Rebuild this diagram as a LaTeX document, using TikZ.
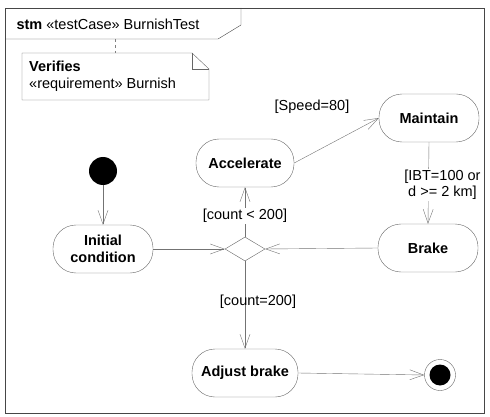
\documentclass[tikz,border=0pt]{standalone}
\usepackage{fontspec}
\setmainfont{Liberation Sans}
\usepackage{tikz}
\usetikzlibrary{arrows.meta}
\usetikzlibrary{shapes.geometric}

\begin{document}
\begin{tikzpicture}[x=1pt,y=-1pt,
          etat/.style={draw=gray!80!black, rounded corners=23pt, minimum width=100pt, minimum height=48pt, inner sep=0pt, font=\fontsize{14.5}{17}\selectfont\bfseries, align=center},
          garde/.style={font=\fontsize{14.5}{16.5}\selectfont, align=center, inner sep=1pt},
          trans/.style={draw=gray!90!black, -{Straight Barb[length=14pt,width=10pt]}}]
          \useasboundingbox (0,0) rectangle (490,417);
          % Cadre et en-tete
          \draw[gray!55!black] (5,8) rectangle (484,413);
          \draw[gray!55!black] (5,39) -- (218,39) -- (241,25) -- (241,8);
          \node[anchor=west, font=\fontsize{14.5}{17}\selectfont] (titre) at (13,24) {\textbf{stm} «testCase» BurnishTest};

          % Ajout de la note
          \draw[gray!80!black] (22,53) -- (192,53) -- (209,69) -- (209,100) -- (22,100) -- cycle;
          \draw[gray!80!black] (192,53) -- (192,69) -- (209,69);
          \node[anchor=north west, align=left, font=\fontsize{14.5}{16.5}\selectfont, inner sep=0pt] (note) at (29,61) {\textbf{Verifies}\\«requirement» Burnish};
          \draw[gray, dashed] (115,39) -- (115,53);

          % Etats
          \fill (103,171) circle[radius=14] coordinate (debut);
          \node[etat] (init) at (103,249) {Initial\\condition};
          \node[etat, minimum width=98pt] (acc) at (245,163) {Accelerate};
          \node[etat] (maint) at (429,118) {Maintain};
          \node[etat] (frein) at (428,248) {Brake};
          \node[etat, minimum width=106pt] (ajust) at (245,373) {Adjust brake};
          \node[draw=gray!80!black, diamond, minimum width=40pt, minimum height=24pt, inner sep=0pt] (choix) at (245,249) {};
          \node[draw=gray!80!black, circle, minimum size=31pt, inner sep=0pt] (fin) at (440,375) {};
          \fill (fin) circle[radius=10.5];

          % Transitions
          \draw[trans] (103,185) -- (init.north);
          \draw[trans] (init.east) -- (choix.west);
          \draw[trans] (frein.west) -- (choix.east);
          \draw[trans] (choix.north) -- (acc.south) node[pos=0.42, garde, fill=white] {[count < 200]};
          \draw[trans] (acc.east) -- (maint.west);
          \node[garde] (vitesse) at (312,107) {[Speed=80]};
          \draw[trans] (maint.south) -- (frein.north) node[garde, pos=0.52, fill=white, xshift=14pt] {[IBT=100 or\\d >= 2 km]};
          \draw[trans] (choix.south) -- (ajust.north) node[garde, pos=0.46, xshift=13pt] {[count=200]};
          \draw[trans] (ajust.east) -- (fin.west);
      \end{tikzpicture}
\end{document}
